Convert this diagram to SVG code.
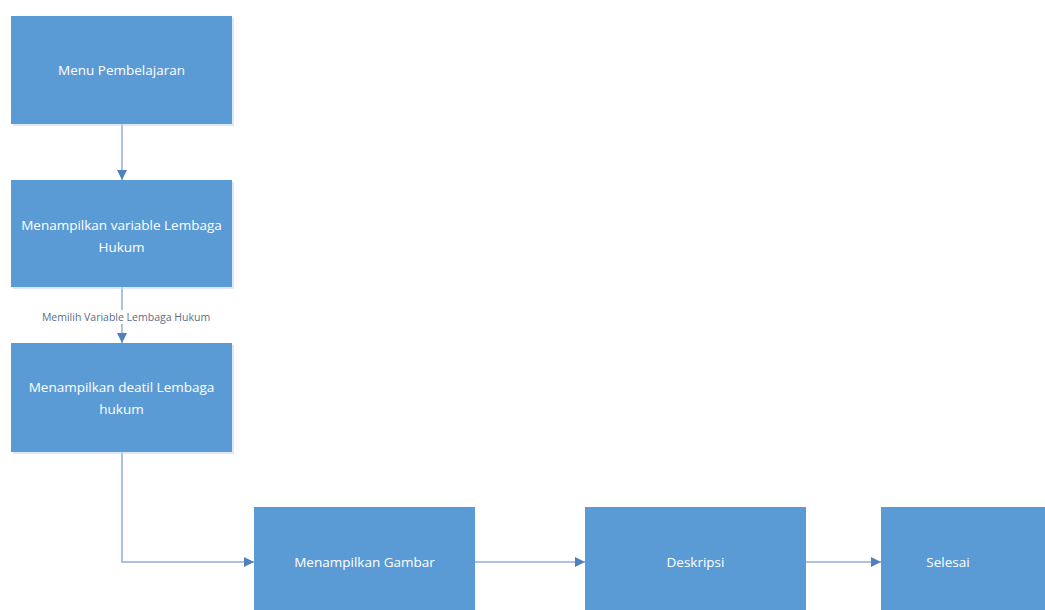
<svg xmlns="http://www.w3.org/2000/svg" width="1045" height="610" viewBox="0 0 1045 610">
  <style>
    .box { fill: #5b9bd5; }
    .shadow { fill: #c9d9ec; opacity: 0.6; }
    .lbl { font-family: "Open Sans", "Liberation Sans", sans-serif; font-size: 13.5px; fill: #ffffff; text-anchor: middle; dominant-baseline: central; }
    .edge { fill: none; stroke: #8eafd8; stroke-width: 1.5; }
    .elbl { font-family: "Open Sans", "Liberation Sans", sans-serif; font-size: 10.5px; fill: #5c6e86; text-anchor: middle; dominant-baseline: central; }
  </style>
  <defs>
    <marker id="arrow" viewBox="0 0 10 10" refX="10" refY="5" markerWidth="10" markerHeight="10" markerUnits="userSpaceOnUse" orient="auto">
      <path d="M0,0 L10,5 L0,10 Z" fill="#4f80c0"/>
    </marker>
  </defs>
  <rect width="1045" height="610" fill="#ffffff"/>

  <!-- connectors -->
  <g id="connectors">
    <line class="edge" x1="122" y1="124" x2="122" y2="180" marker-end="url(#arrow)"/>
    <line class="edge" x1="122" y1="287" x2="122" y2="343" marker-end="url(#arrow)"/>
    <rect x="36" y="310" width="182" height="14" fill="#ffffff"/>
    <text class="elbl" x="126" y="317">Memilih Variable Lembaga Hukum</text>
    <polyline class="edge" points="122,452 122,562 254,562" marker-end="url(#arrow)"/>
    <line class="edge" x1="475" y1="562" x2="585" y2="562" marker-end="url(#arrow)"/>
    <line class="edge" x1="806" y1="562" x2="881" y2="562" marker-end="url(#arrow)"/>
  </g>

  <g id="menu-pembelajaran">
    <rect class="shadow" x="13" y="18" width="221" height="108"/>
    <rect class="box" x="11" y="16" width="221" height="108"/>
    <text class="lbl" x="121.5" y="70">Menu Pembelajaran</text>
  </g>

  <g id="variable-lembaga">
    <rect class="shadow" x="13" y="182" width="221" height="107"/>
    <rect class="box" x="11" y="180" width="221" height="107"/>
    <text class="lbl" x="121.5" y="225">Menampilkan variable Lembaga</text>
    <text class="lbl" x="121.5" y="247">Hukum</text>
  </g>

  <g id="detail-lembaga">
    <rect class="shadow" x="13" y="345" width="221" height="109"/>
    <rect class="box" x="11" y="343" width="221" height="109"/>
    <text class="lbl" x="121.5" y="387">Menampilkan deatil Lembaga</text>
    <text class="lbl" x="121.5" y="409">hukum</text>
  </g>

  <g id="gambar">
    <rect class="box" x="254" y="507" width="221" height="103"/>
    <text class="lbl" x="364.5" y="562">Menampilkan Gambar</text>
  </g>

  <g id="deskripsi">
    <rect class="box" x="585" y="507" width="221" height="103"/>
    <text class="lbl" x="695.5" y="562">Deskripsi</text>
  </g>

  <g id="selesai">
    <rect class="box" x="881" y="507" width="164" height="103"/>
    <text class="lbl" x="948" y="562">Selesai</text>
  </g>
</svg>
